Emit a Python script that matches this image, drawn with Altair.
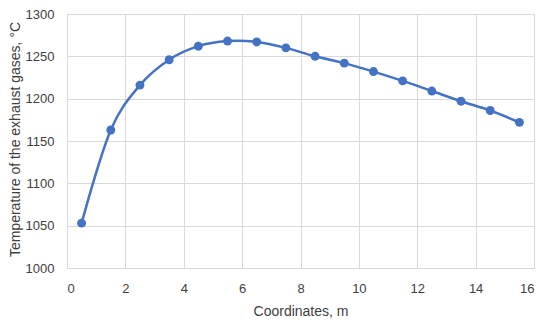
import altair as alt
import pandas as pd

coords = [0.5, 1.5, 2.5, 3.5, 4.5, 5.5, 6.5, 7.5, 8.5, 9.5, 10.5, 11.5, 12.5, 13.5, 14.5, 15.5]
temps = [1053, 1163, 1216, 1246, 1262, 1268, 1267, 1260, 1250, 1242, 1232, 1221, 1209, 1197, 1186, 1172]

df = pd.DataFrame({"x": coords, "y": temps})

FONT = "Liberation Sans"
BLUE = "#4472C4"

x = alt.X("x:Q", title="Coordinates, m",
          scale=alt.Scale(domain=[0, 16], nice=False, zero=False),
          axis=alt.Axis(values=list(range(0, 17, 2)), grid=True, gridColor="#D9D9D9",
                        domainColor="#D9D9D9", ticks=False, labelPadding=14, format="d",
                        labelFontSize=13, labelColor="#404040", labelFont=FONT,
                        titleFont=FONT, titleFontSize=14, titleFontWeight="normal",
                        titleColor="#404040", titlePadding=9))
y = alt.Y("y:Q", title="Temperature of the exhaust gases, °C",
          scale=alt.Scale(domain=[1000, 1300], nice=False, zero=False),
          axis=alt.Axis(values=list(range(1000, 1301, 50)), grid=True, gridColor="#D9D9D9",
                        domain=False, ticks=False, labelPadding=13, format="d",
                        labelFontSize=13, labelColor="#404040", labelFont=FONT,
                        titleFont=FONT, titleFontSize=14, titleFontWeight="normal",
                        titleColor="#404040", titleX=-45, titleY=125))

line = alt.Chart(df).mark_line(color=BLUE, strokeWidth=2.5, interpolate="cardinal").encode(x=x, y=y)
pts = alt.Chart(df).mark_point(color=BLUE, filled=True, opacity=1, size=80).encode(x=x, y=y)

chart = (line + pts).properties(
    width=467, height=254,
    autosize=alt.AutoSizeParams(type="none"),
    padding={"left": 59, "top": 6, "right": 8, "bottom": 52},
).configure_view(stroke="#D9D9D9")

chart.save("out.html", embed_options={"renderer": "svg", "actions": False})
